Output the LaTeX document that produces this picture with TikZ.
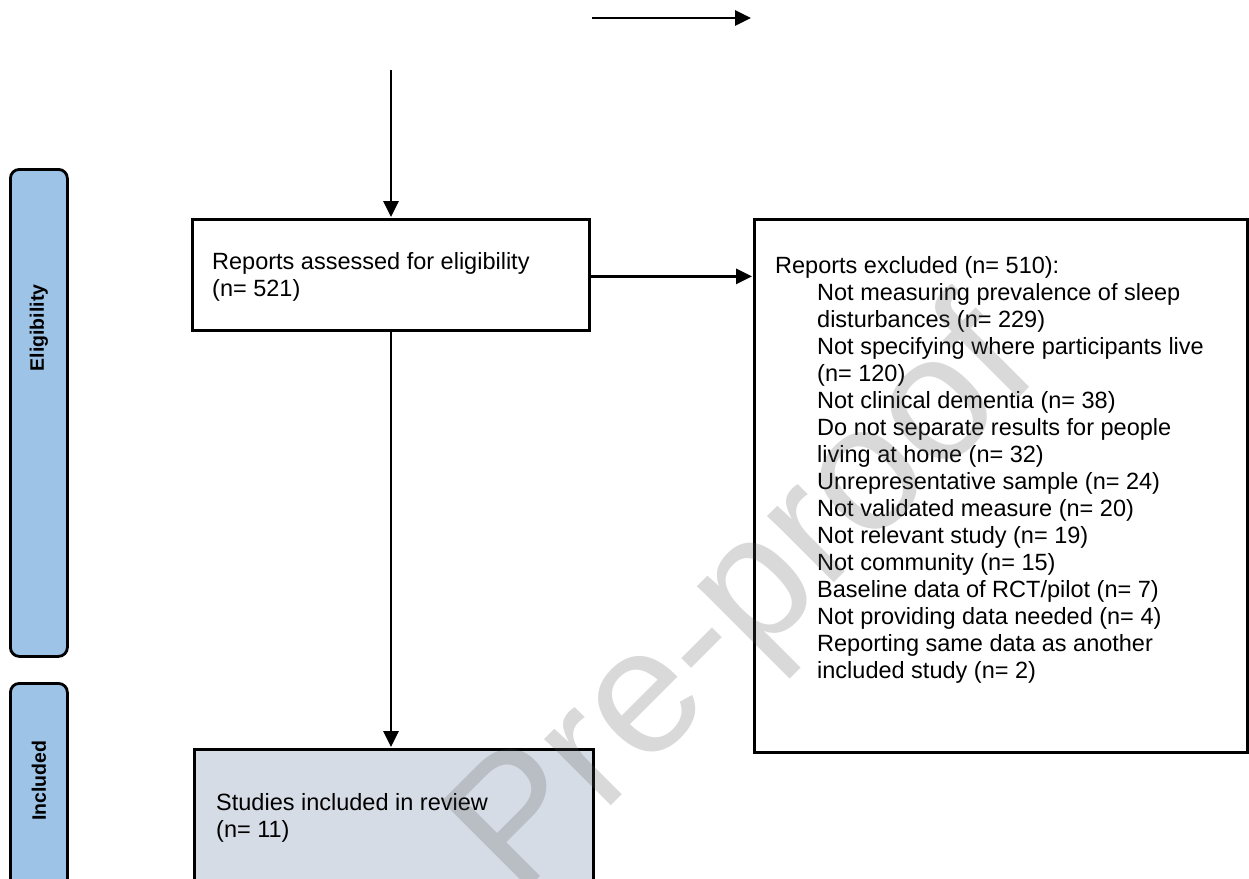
\documentclass[tikz,border=0pt]{standalone}
\usepackage{fontspec}
\setmainfont{Liberation Sans}
\usetikzlibrary{arrows.meta}
\definecolor{barblue}{RGB}{157,195,230}
\definecolor{boxblue}{RGB}{214,220,229}
\definecolor{wmgray}{RGB}{82,82,82}
\begin{document}
\begin{tikzpicture}[x=1pt,y=-1pt,
  box/.style={draw=black, line width=2.8pt, rectangle, anchor=north west, inner sep=0pt},
  txt/.style={anchor=north west, inner sep=0pt, align=left,
    font=\fontsize{23.5}{27}\selectfont},
  phase/.style={draw=black, line width=2.8pt, fill=barblue, rounded corners=9pt,
    anchor=north west, minimum width=57pt, inner sep=0pt},
  phasetext/.style={rotate=90, font=\bfseries\fontsize{19.5}{22}\selectfont},
  conn/.style={line width=2.8pt, -{Triangle[length=16pt,width=15pt]}, shorten >=1pt},
  wmark/.style={rotate=45, text=wmgray, text opacity=0.22,
    font=\fontsize{178}{178}\selectfont}]
\useasboundingbox (0,0) rectangle (1249,878);

% phase bars
\node[phase, minimum height=487pt] (elig) at (9,168) {};
\node[phasetext] (eligt) at ([yshift=85pt]elig.center) {Eligibility};
\node[phase, minimum height=215pt] (incl) at (9,682) {};
\node[phasetext] (inclt) at ([yshift=10pt]incl.center) {Included};

% boxes
\node[box, minimum width=397pt, minimum height=111pt] (rep) at (191,218) {};
\node[txt] (rept) at (212,252) {Reports assessed for eligibility\\(n= 521)};

\node[box, minimum width=493pt, minimum height=533pt] (exc) at (753,218) {};
\node[txt] (exct) at (775,256)
  {Reports excluded (n= 510):\\
   \hspace*{42pt}Not measuring prevalence of sleep\\
   \hspace*{42pt}disturbances (n= 229)\\
   \hspace*{42pt}Not specifying where participants live\\
   \hspace*{42pt}(n= 120)\\
   \hspace*{42pt}Not clinical dementia (n= 38)\\
   \hspace*{42pt}Do not separate results for people\\
   \hspace*{42pt}living at home (n= 32)\\
   \hspace*{42pt}Unrepresentative sample (n= 24)\\
   \hspace*{42pt}Not validated measure (n= 20)\\
   \hspace*{42pt}Not relevant study (n= 19)\\
   \hspace*{42pt}Not community (n= 15)\\
   \hspace*{42pt}Baseline data of RCT/pilot (n= 7)\\
   \hspace*{42pt}Not providing data needed (n= 4)\\
   \hspace*{42pt}Reporting same data as another\\
   \hspace*{42pt}included study (n= 2)};

\node[box, fill=boxblue, minimum width=399pt, minimum height=135pt] (inc) at (193,748) {};
\node[txt] (inct) at (216,793) {Studies included in review\\(n= 11)};

% connectors
\coordinate (t1) at (592,18);
\coordinate (t2) at (752,18);
\coordinate (v1) at (391,70);
\draw[conn] (t1) -- (t2);
\draw[conn] (v1) -- (v1 |- rep.north);
\draw[conn] ([yshift=-1.5pt]rep.east) -- ([yshift=-1.5pt]rep.east -| exc.west);
\draw[conn] (v1 |- rep.south) -- (v1 |- inc.north);

% watermark
\node[wmark] (wm) at (748,604) {Pre-proof};
\end{tikzpicture}
\end{document}
